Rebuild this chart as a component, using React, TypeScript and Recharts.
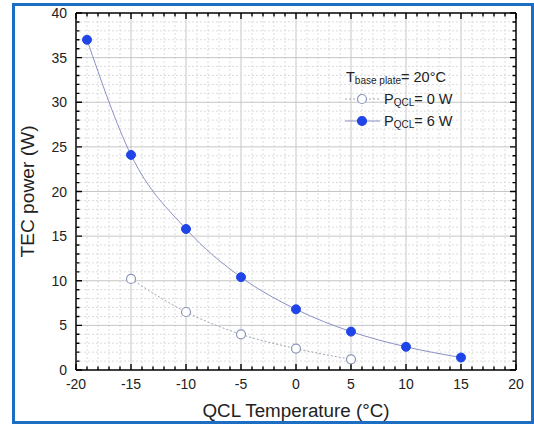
import { LineChart, Line, XAxis, YAxis, ReferenceLine } from "recharts";

const tempsP6 = [-19, -15, -10, -5, 0, 5, 10, 15];
const powerP6 = [37.0, 24.1, 15.8, 10.4, 6.8, 4.3, 2.6, 1.4];
const tempsP0 = [-15, -10, -5, 0, 5];
const powerP0 = [10.2, 6.5, 4.0, 2.4, 1.2];

const xLabels = [-20, -15, -10, -5, 0, 5, 10, 15, 20];
const yLabels = [0, 5, 10, 15, 20, 25, 30, 35, 40];

const range = (a: number, b: number) => {
  const out: number[] = [];
  for (let v = a; v <= b; v++) out.push(v);
  return out;
};
const allX = range(-20, 20);
const allY = range(0, 40);

const p6Data = tempsP6.map((t, i) => ({ t, p: powerP6[i] }));
const p0Data = tempsP0.map((t, i) => ({ t, p: powerP0[i] }));

const FONT = "'Liberation Sans', Arial, sans-serif";
const TEXT = "#222";
const BLUE = "#1f45e8";
const LINE6 = "#8a90c4";
const LINE0 = "#a2a4b4";
const OPEN = "#8a94b8";
const MAJOR_GRID = "#c6c6c6";
const MINOR_GRID = "#dcdcdc";

const tickLen = (v: number) => (v % 5 === 0 ? 6 : 3.5);

// vertical grid line + inward ticks on top and bottom of the frame
const VGrid = (props: any) => {
  const { x1, y1, y2, v, edge } = props;
  const top = Math.min(y1, y2);
  const bottom = Math.max(y1, y2);
  const len = tickLen(v);
  return (
    <g>
      {edge ? (
        <path d={`M${x1},${top}V${bottom}`} stroke="#000" strokeWidth={1.5} />
      ) : (
        <path
          d={`M${x1},${top}V${bottom}`}
          stroke={v % 5 === 0 ? MAJOR_GRID : MINOR_GRID}
          strokeWidth={1}
          strokeDasharray={v % 5 === 0 ? undefined : "2 2"}
        />
      )}
      <path d={`M${x1},${bottom}V${bottom - len}M${x1},${top}V${top + len}`} stroke="#000" strokeWidth={1.4} />
    </g>
  );
};

// horizontal grid line + inward ticks on left and right of the frame
const HGrid = (props: any) => {
  const { x1, x2, y1, v, edge } = props;
  const left = Math.min(x1, x2);
  const right = Math.max(x1, x2);
  const len = tickLen(v);
  return (
    <g>
      {edge ? (
        <path d={`M${left},${y1}H${right}`} stroke="#000" strokeWidth={1.5} />
      ) : (
        <path
          d={`M${left},${y1}H${right}`}
          stroke={v % 5 === 0 ? MAJOR_GRID : MINOR_GRID}
          strokeWidth={1}
          strokeDasharray={v % 5 === 0 ? undefined : "2 2"}
        />
      )}
      <path d={`M${left},${y1}H${left + len}M${right},${y1}H${right - len}`} stroke="#000" strokeWidth={1.4} />
    </g>
  );
};

const BottomLabel = (props: any) => {
  const { x, y, payload } = props;
  return (
    <text x={x} y={y + 19} textAnchor="middle" fontSize={14} fill={TEXT} fontFamily={FONT}>
      {payload.value}
    </text>
  );
};

const LeftLabel = (props: any) => {
  const { x, y, payload } = props;
  return (
    <text x={x - 9} y={y + 5} textAnchor="end" fontSize={14} fill={TEXT} fontFamily={FONT}>
      {payload.value}
    </text>
  );
};

const Sample = ({ open }: { open: boolean }) => (
  <svg width={36} height={12} style={{ marginRight: 3 }}>
    <line
      x1={0}
      x2={35}
      y1={6}
      y2={6}
      stroke={open ? LINE0 : LINE6}
      strokeWidth={1}
      strokeDasharray={open ? "2 2" : undefined}
    />
    <circle cx={17} cy={6} r={4.5} fill={open ? "#fff" : BLUE} stroke={open ? OPEN : BLUE} strokeWidth={1.2} />
  </svg>
);

const subStyle = { fontSize: 10, lineHeight: 0, position: "relative" as const, top: 4 };
const row = { display: "flex", alignItems: "center", height: 22 };

const LegendBox = () => (
  <div
    style={{
      position: "absolute",
      left: 345,
      top: 66,
      fontFamily: FONT,
      fontSize: 14.5,
      color: TEXT,
      whiteSpace: "nowrap",
    }}
  >
    <div style={{ ...row, paddingLeft: 1 }}>
      T<span style={subStyle}>base plate</span>= 20°C
    </div>
    <div style={row}>
      <Sample open={true} />
      P<span style={subStyle}>QCL</span>= 0 W
    </div>
    <div style={row}>
      <Sample open={false} />
      P<span style={subStyle}>QCL</span>= 6 W
    </div>
  </div>
);

export default function App() {
  return (
    <div style={{ position: "absolute", left: 0, top: 0, width: 534, height: 424, background: "#fff" }}>
      <div
        style={{
          position: "absolute",
          left: 12,
          top: 3,
          width: 522,
          height: 421,
          boxSizing: "border-box",
          border: "3px solid #1b6ec2",
        }}
      />
      <LineChart
        width={534}
        height={424}
        margin={{ top: 13, right: 18, bottom: 0, left: 0 }}
        style={{ position: "absolute", left: 0, top: 0 }}
      >
        <XAxis
          dataKey="t"
          type="number"
          domain={[-20, 20]}
          ticks={xLabels}
          interval={0}
          height={54}
          tickSize={0}
          tickMargin={0}
          tickLine={false}
          axisLine={false}
          tick={BottomLabel}
          label={{
            value: "QCL Temperature (°C)",
            position: "insideBottom",
            offset: 7,
            style: { fontSize: 18.8, fill: TEXT, fontFamily: FONT },
          }}
        />
        <YAxis
          type="number"
          domain={[0, 40]}
          ticks={yLabels}
          interval={0}
          width={76}
          tickSize={0}
          tickMargin={0}
          tickLine={false}
          axisLine={false}
          tick={LeftLabel}
          label={{
            value: "TEC power (W)",
            angle: -90,
            position: "insideLeft",
            offset: 27,
            style: { fontSize: 19.2, fill: TEXT, fontFamily: FONT, textAnchor: "middle" },
          }}
        />
        {allX.map((v) => (
          <ReferenceLine
            key={`vx${v}`}
            x={v}
            shape={(p: any) => <VGrid {...p} v={v} edge={v === -20 || v === 20} />}
          />
        ))}
        {allY.map((v) => (
          <ReferenceLine
            key={`hy${v}`}
            y={v}
            shape={(p: any) => <HGrid {...p} v={v} edge={v === 0 || v === 40} />}
          />
        ))}
        <Line
          data={p0Data}
          dataKey="p"
          type="monotone"
          stroke={LINE0}
          strokeWidth={1}
          strokeDasharray="2 2"
          dot={{ r: 4.5, fill: "#fff", stroke: OPEN, strokeWidth: 1.2, strokeDasharray: "" }}
          activeDot={false}
          isAnimationActive={false}
        />
        <Line
          data={p6Data}
          dataKey="p"
          type="monotone"
          stroke={LINE6}
          strokeWidth={1}
          dot={{ r: 4.5, fill: BLUE, stroke: BLUE, strokeWidth: 1 }}
          activeDot={false}
          isAnimationActive={false}
        />
      </LineChart>
      <LegendBox />
    </div>
  );
}
